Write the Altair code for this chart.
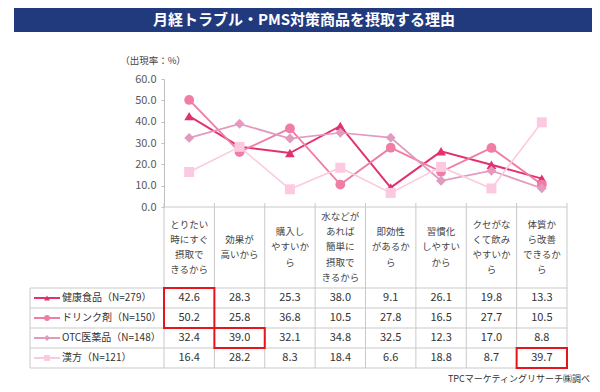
import altair as alt
import pandas as pd

title_text = "月経トラブル・PMS対策商品を摂取する理由"
y_title = "（出現率：%）"
source_text = "TPCマーケティングリサーチ㈱調べ"

categories = [
    "とりたい\n時にすぐ\n摂取で\nきるから",
    "効果が\n高いから",
    "購入し\nやすいか\nら",
    "水などが\nあれば\n簡単に\n摂取で\nきるから",
    "即効性\nがあるか\nら",
    "習慣化\nしやすい\nから",
    "クセがな\nくて飲み\nやすいか\nら",
    "体質か\nら改善\nできるか\nら",
]
series = ["健康食品", "ドリンク剤", "OTC医薬品", "漢方"]
series_n = [279, 150, 148, 121]
health_food = [42.6, 28.3, 25.3, 38.0, 9.1, 26.1, 19.8, 13.3]
drink = [50.2, 25.8, 36.8, 10.5, 27.8, 16.5, 27.7, 10.5]
otc = [32.4, 39.0, 32.1, 34.8, 32.5, 12.3, 17.0, 8.8]
kampo = [16.4, 28.2, 8.3, 18.4, 6.6, 18.8, 8.7, 39.7]
y_ticks = [0, 10, 20, 30, 40, 50, 60]

highlight_col = [0, 1, 7]
highlight_row_from = [0, 2, 3]
highlight_row_to = [2, 3, 4]

colors = ["#E3306F", "#EF7DA5", "#E29ABF", "#FCCAE0"]
shapes = ["triangle-up", "circle", "diamond", "square"]
sizes = [95, 100, 130, 90]
widths = [2.0, 1.6, 1.6, 1.6]
grid_color = "#c9c9c9"
text_color = "#333333"
FONT = "Noto Sans CJK JP"

values_by_series = [health_food, drink, otc, kampo]

rows = []
for k, (s, vals) in enumerate(zip(series, values_by_series)):
    for i, v in enumerate(vals):
        rows.append({"series": s, "row": k, "col": i, "value": v, "label": f"{v:.1f}"})
df = pd.DataFrame(rows)

cat_df = pd.DataFrame({"cat": categories, "col": list(range(len(categories)))})
legend_df = pd.DataFrame({
    "series": series,
    "row": list(range(len(series))),
    "label": [f"{s}（N={n}）" for s, n in zip(series, series_n)],
})
hline_df = pd.DataFrame({"r": list(range(len(series) + 1))})
vline_df = pd.DataFrame({"c": list(range(len(categories) + 1))})
hl_df = pd.DataFrame({"c0": highlight_col, "r0": highlight_row_from, "r1": highlight_row_to})
one = pd.DataFrame({"t": [title_text], "y": [y_title], "s": [source_text]})

W, H = 403, 128
HEADER_MID = 168.5
LINE_H = 15.3
xscale = alt.Scale(domain=[0, len(categories)], nice=False, zero=False)
tscale = alt.Scale(domain=[0, len(series)], range=[209, 289], nice=False, zero=False)
pscale = alt.Scale(domain=[0, 300], range=[0, 300], nice=False, zero=False)
yscale = alt.Scale(domain=[0, 60], nice=False, zero=True)
color = alt.Color("series:N", scale=alt.Scale(domain=series, range=colors), legend=None)
shape = alt.Shape("series:N", scale=alt.Scale(domain=series, range=shapes), legend=None)

yaxis = alt.Axis(values=y_ticks, tickCount=7, format=".1f", title=None, grid=False,
                 labelFontSize=11, labelColor="#595959", labelFont=FONT,
                 labelOverlap=False, labelBound=False,
                 domainColor="#bfbfbf", tickColor="#bfbfbf", tickSize=3,
                 labelPadding=5)

base = alt.Chart(df).transform_calculate(xc="datum.col + 0.5")
lines = base.mark_line().encode(
    x=alt.X("xc:Q", scale=xscale, axis=None),
    y=alt.Y("value:Q", scale=yscale, axis=yaxis),
    color=color,
    strokeWidth=alt.StrokeWidth("series:N", scale=alt.Scale(domain=series, range=widths), legend=None),
)
points = base.mark_point(filled=True, opacity=1).encode(
    x=alt.X("xc:Q", scale=xscale, axis=None),
    y=alt.Y("value:Q", scale=yscale, axis=yaxis),
    color=color,
    shape=shape,
    size=alt.Size("series:N", scale=alt.Scale(domain=series, range=sizes), legend=None),
)
line_layer = alt.layer(lines, points)

# table
hlines = alt.Chart(hline_df).mark_rule(color=grid_color, strokeWidth=1).encode(
    y=alt.Y("r:Q", scale=tscale, axis=None),
    x=alt.value(-134), x2=alt.value(W),
)
vlines = alt.Chart(vline_df).mark_rule(color=grid_color, strokeWidth=1).encode(
    x=alt.X("c:Q", scale=xscale, axis=None),
    y=alt.value(124), y2=alt.value(289),
)
left_border = alt.Chart(one).mark_rule(color=grid_color, strokeWidth=1).encode(
    x=alt.value(-134), y=alt.value(209), y2=alt.value(289),
)
header_top = alt.Chart(one).mark_rule(color=grid_color, strokeWidth=1).encode(
    x=alt.value(0), x2=alt.value(W), y=alt.value(H),
)
header_text = alt.Chart(cat_df).transform_calculate(
    xc="datum.col + 0.5",
    yp=f"{HEADER_MID} - (split(datum.cat, '\\n').length - 1) * {LINE_H} / 2",
).mark_text(
    lineBreak="\n", baseline="middle", lineHeight=LINE_H, fontSize=9.5, color="#444444", font=FONT
).encode(
    x=alt.X("xc:Q", scale=xscale, axis=None),
    y=alt.Y("yp:Q", scale=pscale, axis=None),
    text="cat:N",
)
cell_text = alt.Chart(df).transform_calculate(xc="datum.col + 0.5", yc="datum.row + 0.5").mark_text(
    fontSize=11, color=text_color, baseline="middle", font=FONT
).encode(
    x=alt.X("xc:Q", scale=xscale, axis=None),
    y=alt.Y("yc:Q", scale=tscale, axis=None),
    text="label:N",
)
leg_base = alt.Chart(legend_df).transform_calculate(yc="datum.row + 0.5")
leg_rules = leg_base.mark_rule(strokeWidth=2).encode(
    x=alt.value(-130), x2=alt.value(-104),
    y=alt.Y("yc:Q", scale=tscale, axis=None),
    color=color,
)
leg_points = leg_base.mark_point(filled=True, opacity=1, size=35).encode(
    x=alt.value(-117),
    y=alt.Y("yc:Q", scale=tscale, axis=None),
    color=color,
    shape=shape,
)
leg_text = leg_base.mark_text(align="left", baseline="middle", fontSize=10, color=text_color, font=FONT).encode(
    x=alt.value(-102),
    y=alt.Y("yc:Q", scale=tscale, axis=None),
    text="label:N",
)
red_boxes = alt.Chart(hl_df).transform_calculate(c1="datum.c0 + 1").mark_rect(
    fillOpacity=0, stroke="#E8141C", strokeWidth=2
).encode(
    x=alt.X("c0:Q", scale=xscale, axis=None),
    x2="c1:Q",
    y=alt.Y("r0:Q", scale=tscale, axis=None),
    y2="r1:Q",
)
table_layer = alt.layer(hlines, vlines, left_border, header_top, cell_text,
                        leg_rules, leg_points, leg_text, red_boxes)

banner = alt.Chart(one).mark_rect(color="#213A7D").encode(
    x=alt.value(-150), x2=alt.value(429), y=alt.value(-71), y2=alt.value(-47),
)
banner_text = alt.Chart(one).mark_text(
    color="white", fontSize=15, fontWeight="bold", baseline="middle", font=FONT
).encode(x=alt.value(140), y=alt.value(-59), text="t:N")
ytitle = alt.Chart(one).mark_text(fontSize=9.5, color="#444444", baseline="middle", font=FONT).encode(
    x=alt.value(-11), y=alt.value(-18), text="y:N")
source = alt.Chart(one).mark_text(align="right", fontSize=9, color=text_color, baseline="middle", font=FONT).encode(
    x=alt.value(426), y=alt.value(300), text="s:N")

chart = alt.layer(banner, banner_text, ytitle, source, line_layer, table_layer, header_text).resolve_scale(
    y="independent"
).properties(
    width=W, height=H,
    padding={"left": 156, "top": 71, "right": 25, "bottom": 177},
    autosize=alt.AutoSizeParams(type="none"),
    background="white",
).configure_view(strokeWidth=0)

chart.save("out.html", embed_options={"renderer": "svg", "actions": False})
